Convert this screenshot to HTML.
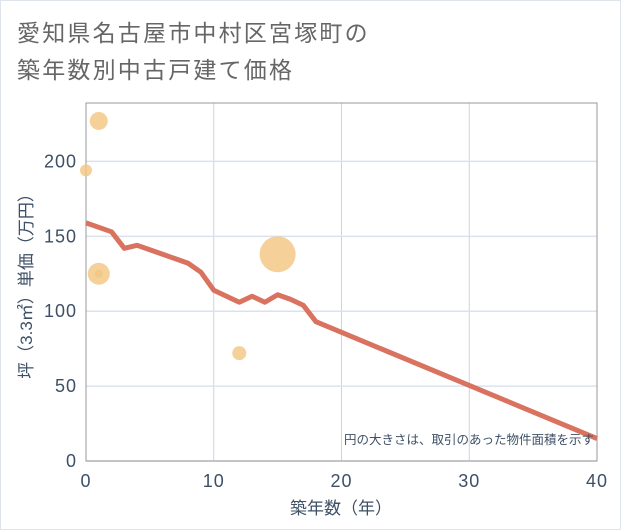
<!DOCTYPE html>
<html><head><meta charset="utf-8"><style>
body{margin:0;background:#fff;}
svg{display:block;font-family:"Liberation Sans","Noto Sans CJK JP",sans-serif;}
</style></head><body>
<svg width="621" height="530" viewBox="0 0 621 530">
<rect x="0.5" y="0.5" width="620" height="529" fill="#fff" stroke="#dfe3ea"/>
<g fill="#666" font-size="23" letter-spacing="2.2">
<text x="17" y="41">愛知県名古屋市中村区宮塚町の</text>
<text x="17" y="78">築年数別中古戸建て価格</text>
</g>
<g id="grid"></g>
<rect x="86" y="103" width="511" height="358" fill="none" stroke="#999" stroke-width="1"/>
<g id="bubbles"></g>
<g id="line"></g>
<g id="ticks" fill="#3d5066" font-size="18" letter-spacing="1"></g>
<text x="341" y="514" text-anchor="middle" fill="#3d5066" font-size="17">築年数（年）</text>
<text transform="translate(32,282) rotate(-90)" text-anchor="middle" fill="#3d5066" font-size="17">坪（3.3㎡）単価（万円）</text>
<text x="594" y="444" text-anchor="end" fill="#3d5066" font-size="12.5">円の大きさは、取引のあった物件面積を示す</text>
</svg>
<script>
const xTicks=[0,10,20,30,40];
const yTicks=[0,50,100,150,200];
const lineYears=[0,1,2,3,4,5,6,7,8,9,10,11,12,13,14,15,16,17,18,40];
const linePrices=[159,156,153,142,144,141,138,135,132,126,114,110,106,110,106,111,108,104,93,15];
const bubbleYears=[1,0,1,1,12,15];
const bubblePrices=[227,194,125,125,72,138];
const bubbleRadii=[9,6,11,4,7,18];
const NS="http://www.w3.org/2000/svg";
const X0=86,X1=597,Y0=461,Y1=103,XMAX=40,YMAX=239;
const sx=v=>X0+(v/XMAX)*(X1-X0);
const sy=v=>Y0-(v/YMAX)*(Y0-Y1);
const grid=document.getElementById('grid'),ticks=document.getElementById('ticks');
xTicks.forEach(t=>{
 const l=document.createElementNS(NS,'line');
 l.setAttribute('x1',sx(t));l.setAttribute('x2',sx(t));l.setAttribute('y1',Y1);l.setAttribute('y2',Y0);
 l.setAttribute('stroke','#ccd3df');
 
 
 grid.appendChild(l);
 const tx=document.createElementNS(NS,'text');
 tx.setAttribute('x',sx(t));tx.setAttribute('y',487);tx.setAttribute('text-anchor','middle');
 tx.textContent=t;
 
 
 ticks.appendChild(tx);
});
yTicks.forEach(t=>{
 const l=document.createElementNS(NS,'line');
 l.setAttribute('x1',X0);l.setAttribute('x2',X1);l.setAttribute('y1',sy(t));l.setAttribute('y2',sy(t));
 l.setAttribute('stroke','#d9e3f0');l.setAttribute('stroke-width','1.5');
 
 
 grid.appendChild(l);
 const tx=document.createElementNS(NS,'text');
 tx.setAttribute('x',77);tx.setAttribute('y',sy(t)+6);tx.setAttribute('text-anchor','end');
 tx.textContent=t;
 
 
 ticks.appendChild(tx);
});
const bg=document.getElementById('bubbles');
bubbleYears.forEach((y,i)=>{
 const c=document.createElementNS(NS,'circle');
 c.setAttribute('cx',sx(y));c.setAttribute('cy',sy(bubblePrices[i]));c.setAttribute('r',bubbleRadii[i]);
 c.setAttribute('fill','#f2c47f');c.setAttribute('fill-opacity','0.8');
 
 
 bg.appendChild(c);
});
const p=document.createElementNS(NS,'polyline');
p.setAttribute('points',lineYears.map((y,i)=>sx(y)+','+sy(linePrices[i])).join(' '));
p.setAttribute('fill','none');p.setAttribute('stroke','#d9735f');p.setAttribute('stroke-width','5');
p.setAttribute('stroke-linejoin','round');


document.getElementById('line').appendChild(p);
</script>
</body></html>
